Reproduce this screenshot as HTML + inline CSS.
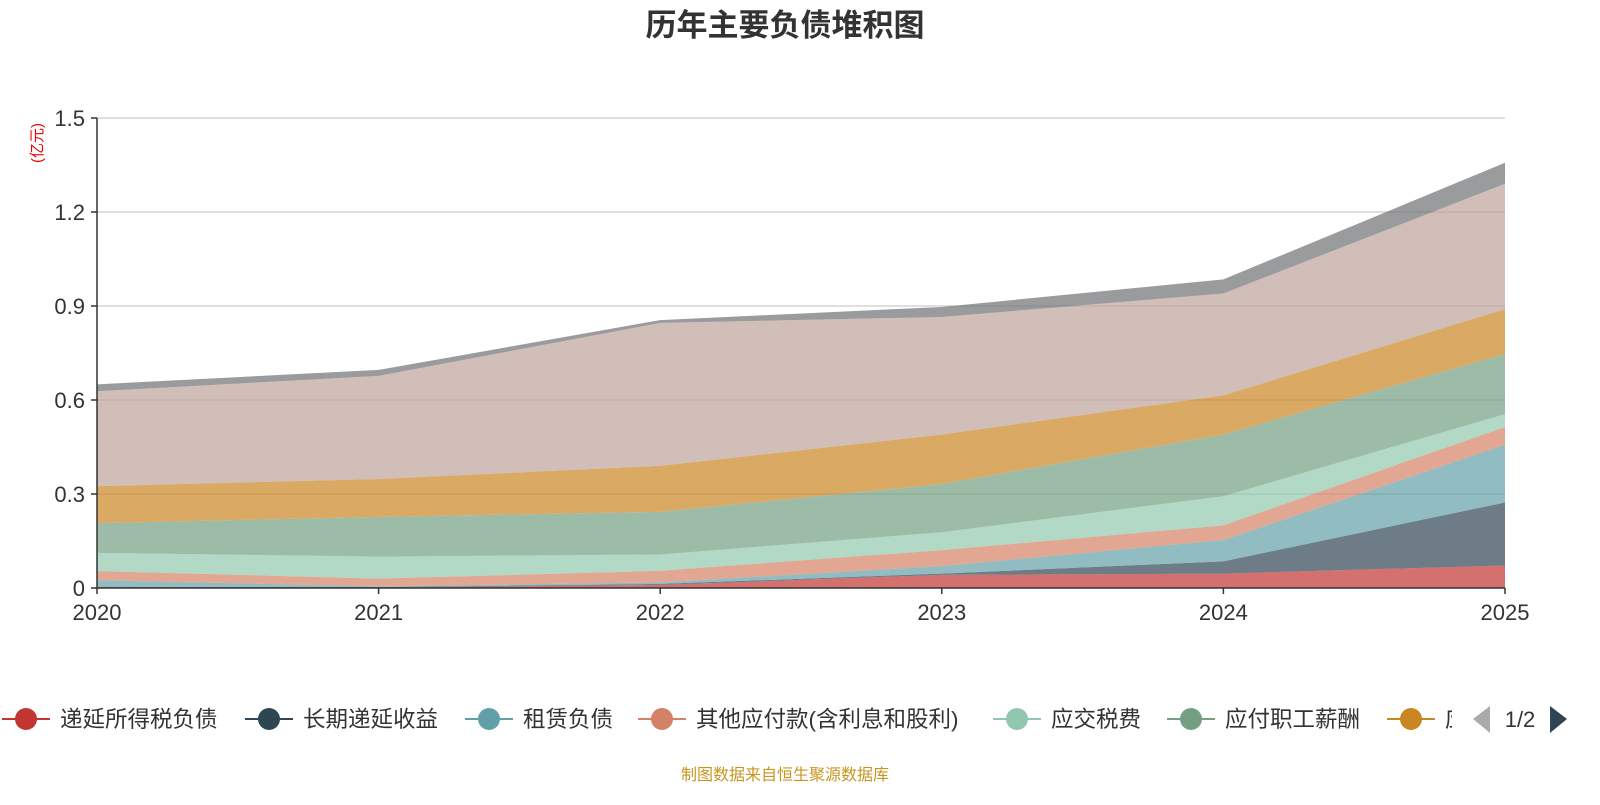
<!DOCTYPE html>
<html><head><meta charset="utf-8">
<style>
html,body{margin:0;padding:0;background:#fff;}
body{width:1600px;height:800px;overflow:hidden;font-family:"Liberation Sans","Noto Sans CJK SC",sans-serif;}
</style></head>
<body>
<svg id="chart" width="1600" height="800" xmlns="http://www.w3.org/2000/svg">
<text x="785" y="36" text-anchor="middle" font-size="31" font-weight="bold" fill="#333" font-family="Liberation Sans,Noto Sans CJK SC,sans-serif">历年主要负债堆积图</text>
<text transform="translate(42,143) rotate(-90)" text-anchor="middle" font-size="15" fill="#e00" font-family="Liberation Sans,Noto Sans CJK SC,sans-serif">(亿元)</text>
<g id="grid"></g>
<g id="areas"></g>
<g id="axes"></g>
<g id="legend"></g>
<text x="785" y="780" text-anchor="middle" font-size="16" fill="#c8961e" font-family="Liberation Sans,Noto Sans CJK SC,sans-serif">制图数据来自恒生聚源数据库</text>
</svg>
<script>
const categories = ["2020","2021","2022","2023","2024","2025"];
const seriesNames = ["递延所得税负债","长期递延收益","租赁负债","其他应付款(含利息和股利)","应交税费","应付职工薪酬","应付票据","应付账款","合同负债"];
const s_deferredTax = [0.002,0.001,0.010,0.042,0.046,0.072];
const s_deferredIncome = [0.002,0.002,0.003,0.004,0.039,0.201];
const s_lease = [0.021,0.002,0.005,0.024,0.068,0.184];
const s_otherPayable = [0.029,0.025,0.037,0.051,0.047,0.057];
const s_taxPayable = [0.058,0.070,0.052,0.057,0.093,0.041];
const s_salary = [0.095,0.127,0.136,0.154,0.197,0.192];
const s_notes = [0.118,0.121,0.147,0.158,0.125,0.143];
const s_accounts = [0.303,0.329,0.456,0.375,0.325,0.400];
const s_contract = [0.022,0.019,0.009,0.032,0.045,0.067];
const yTicks = [0,0.3,0.6,0.9,1.2,1.5];
const yTickLabels = ["0","0.3","0.6","0.9","1.2","1.5"];
const colors = ["#c23531","#2f4554","#61a0a8","#d48265","#91c7ae","#749f83","#ca8622","#bda29a","#6e7074"];

const NS="http://www.w3.org/2000/svg";
const X0=97,X1=1505,Y0=588,Y1=118,YMAX=1.5;
const xs=i=>X0+(X1-X0)*i/(categories.length-1);
const ys=v=>Y0-(Y0-Y1)*v/YMAX;
function mk(tag,attrs,parent){const e=document.createElementNS(NS,tag);for(const k in attrs)e.setAttribute(k,attrs[k]);parent.appendChild(e);return e;}
const grid=document.getElementById('grid'),areas=document.getElementById('areas'),axes=document.getElementById('axes'),legend=document.getElementById('legend');
yTicks.forEach((t,i)=>{
  if(t>0){const g=mk('line',{x1:X0,x2:X1,y1:ys(t),y2:ys(t),stroke:'#ccc','stroke-width':1.2},grid);
  
  }
  const tk=mk('line',{x1:X0-6,x2:X0,y1:ys(t),y2:ys(t),stroke:'#333','stroke-width':1.5},axes);
  
  
  const tl=mk('text',{x:X0-12,y:ys(t)+8,'text-anchor':'end','font-size':22,fill:'#333'},axes);
  tl.textContent=yTickLabels[i];
  
  
});
const all=[s_deferredTax,s_deferredIncome,s_lease,s_otherPayable,s_taxPayable,s_salary,s_notes,s_accounts,s_contract];
let base=categories.map(()=>0);
all.forEach((s,si)=>{
  const top=base.map((b,i)=>b+s[i]);
  let d='M'+categories.map((c,i)=>xs(i)+','+ys(top[i])).join(' L');
  for(let i=categories.length-1;i>=0;i--)d+=' L'+xs(i)+','+ys(base[i]);
  d+=' Z';
  const p=mk('path',{d:d,fill:colors[si],'fill-opacity':0.7,stroke:'none'},areas);
  
  
  base=top;
});
const ax=mk('line',{x1:X0,x2:X1,y1:Y0,y2:Y0,stroke:'#333','stroke-width':1.5},axes);


const ay=mk('line',{x1:X0,x2:X0,y1:Y1,y2:Y0,stroke:'#333','stroke-width':1.5},axes);


categories.forEach((c,i)=>{
  const tk=mk('line',{x1:xs(i),x2:xs(i),y1:Y0,y2:Y0+6,stroke:'#333','stroke-width':1.5},axes);
  
  
  const t=mk('text',{x:xs(i),y:Y0+32,'text-anchor':'middle','font-size':22,fill:'#333'},axes);
  t.textContent=c;
  
  
});
// legend
const clip=mk('clipPath',{id:'legclip'},legend);mk('rect',{x:0,y:690,width:1452,height:60},clip);
const lg=mk('g',{'clip-path':'url(#legclip)'},legend);
const legX=[2,245,465,638,993,1167,1387,1600,1800];
seriesNames.forEach((n,i)=>{
  const g=mk('g',{},lg);
  
  
  const x=legX[i],y=719;
  mk('line',{x1:x,x2:x+48,y1:y,y2:y,stroke:colors[i],'stroke-width':2},g);
  mk('circle',{cx:x+24,cy:y,r:11,fill:colors[i]},g);
  const t=mk('text',{x:x+58,y:y+8,'font-size':22.5,fill:'#333'},g);
  t.textContent=n;
});
const pl=mk('path',{d:'M1490,706 L1473,719 L1490,733 Z',fill:'#aaa'},legend);


const pt=mk('text',{x:1520,y:727,'text-anchor':'middle','font-size':22,fill:'#333'},legend);
pt.textContent='1/2';


const pr=mk('path',{d:'M1550,706 L1567,719 L1550,733 Z',fill:'#2f4554'},legend);


</script>
</body></html>
